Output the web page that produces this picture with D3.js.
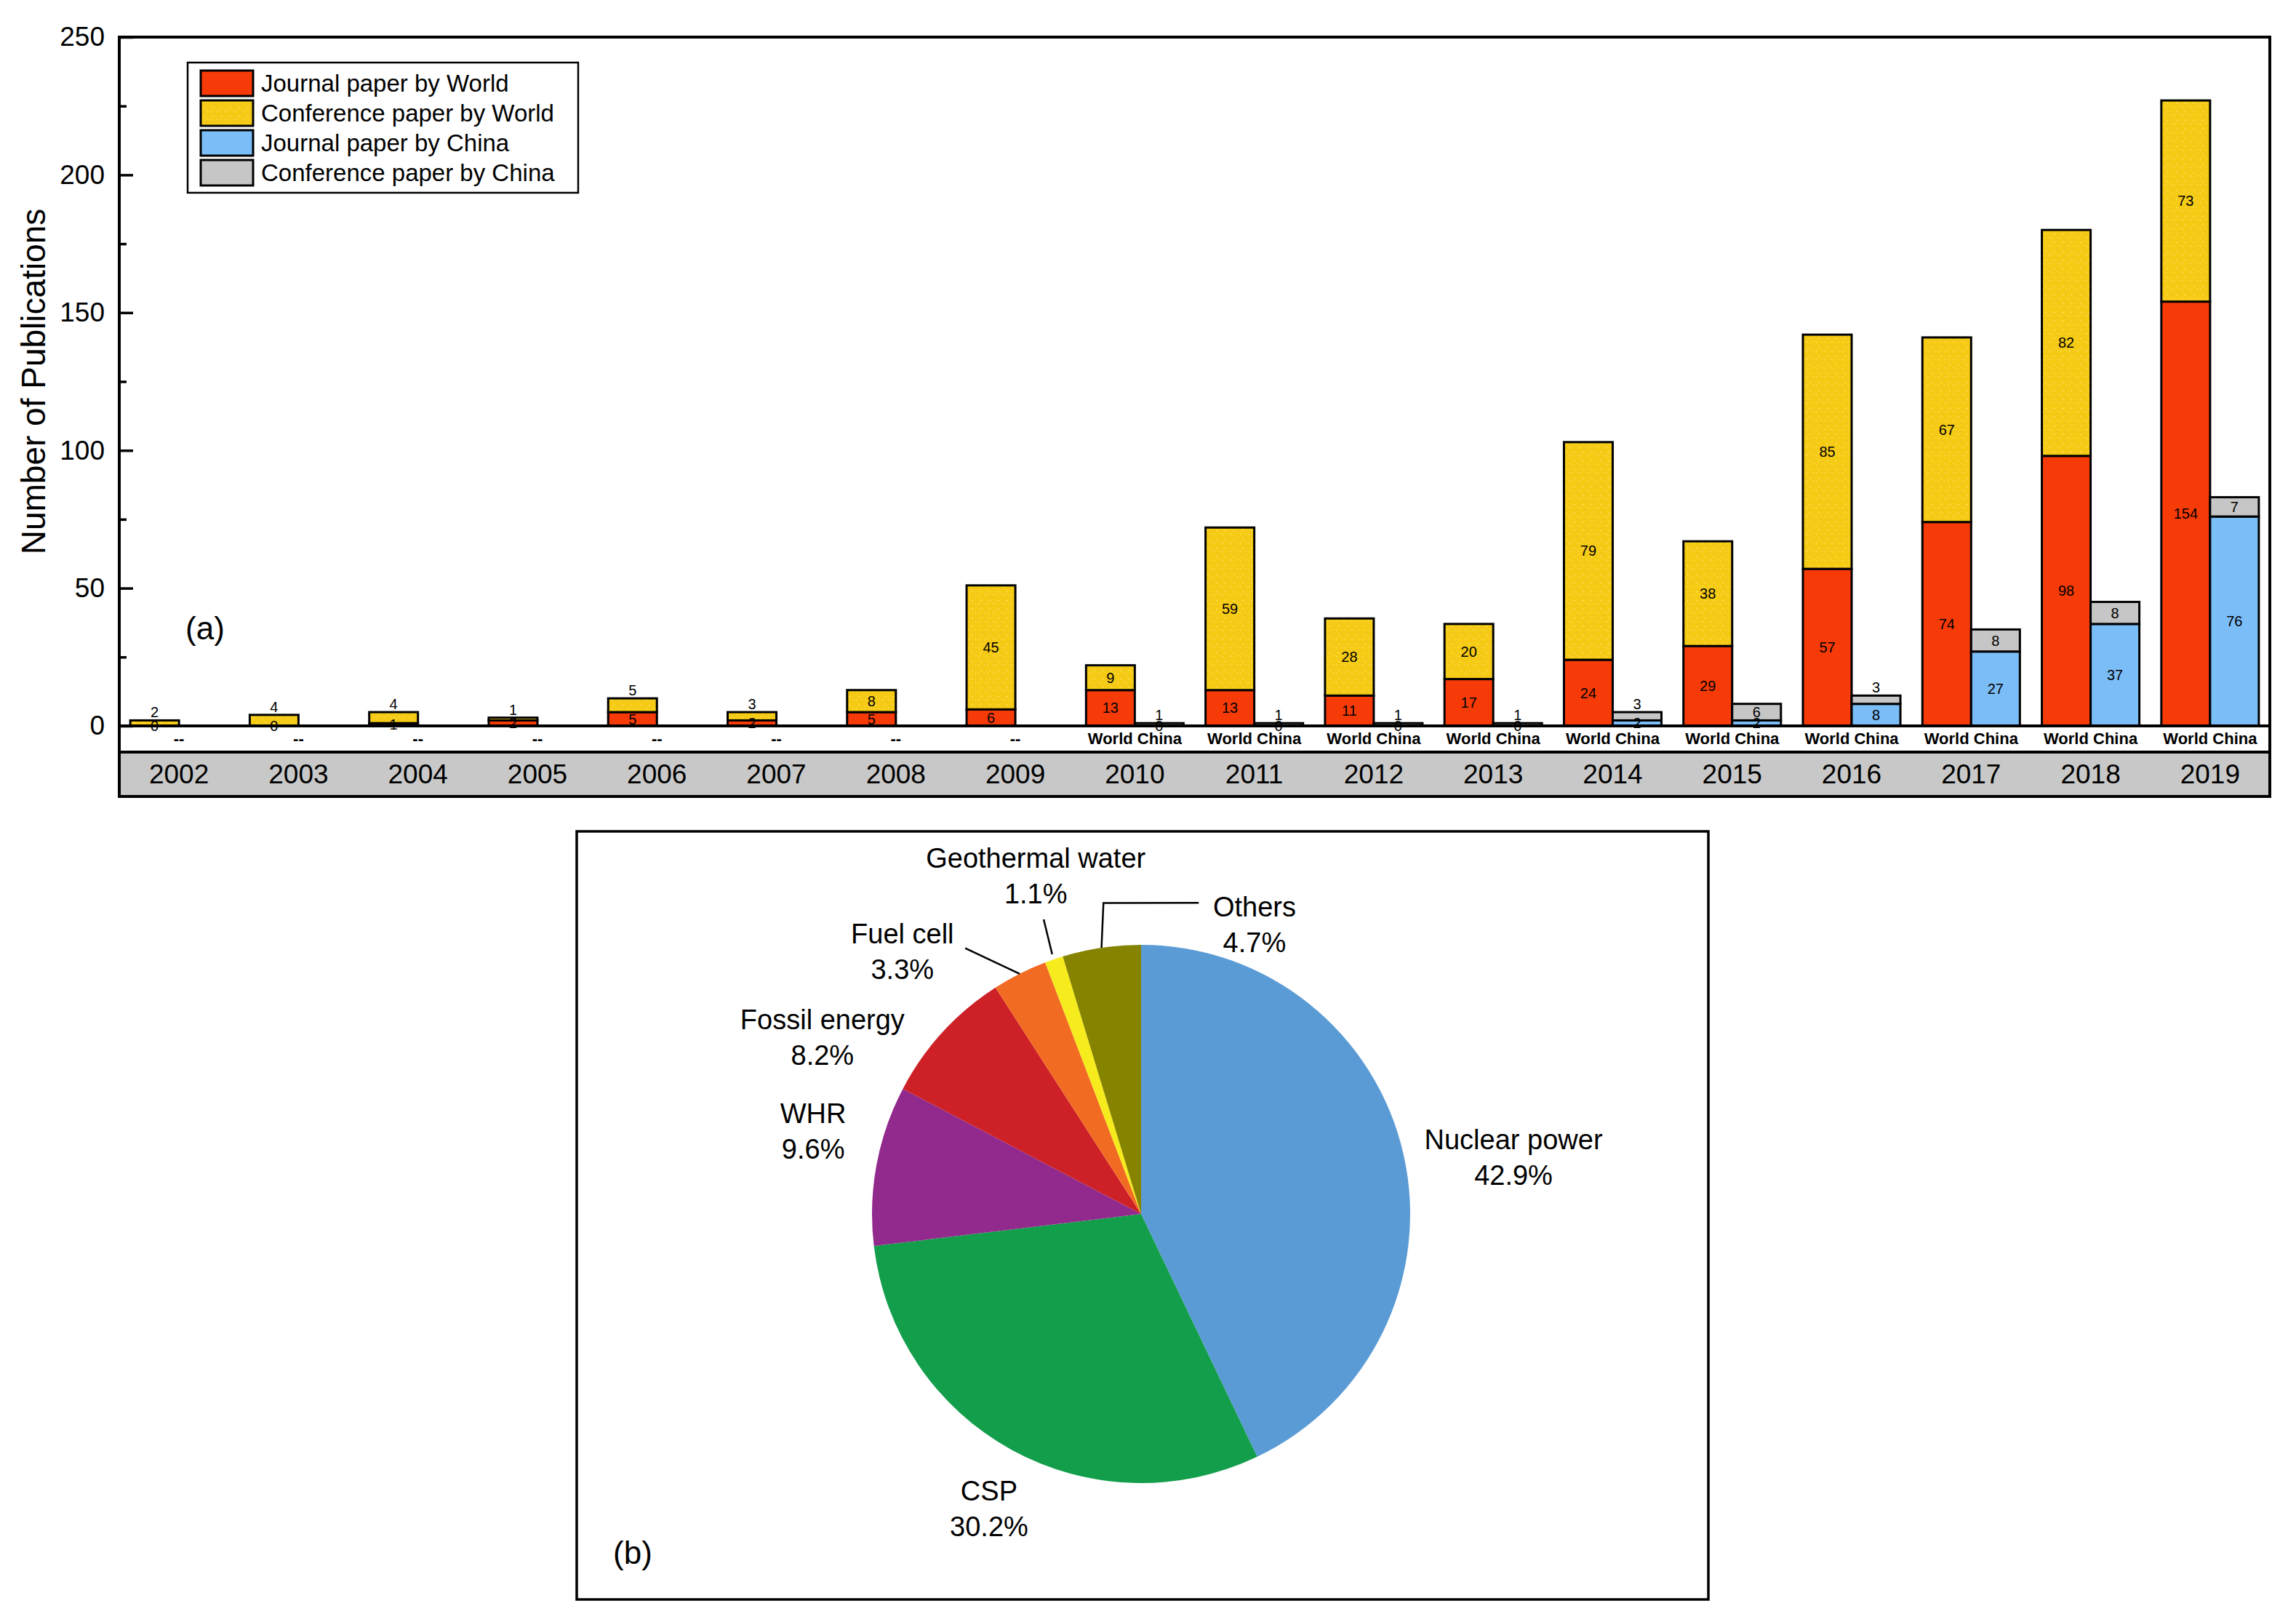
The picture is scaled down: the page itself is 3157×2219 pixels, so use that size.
<!DOCTYPE html>
<html>
<head>
<meta charset="utf-8">
<script src="https://cdn.jsdelivr.net/npm/d3@7"></script>
<style>
  body { margin: 0; background: #fff; }
  svg { display: block; font-family: "Liberation Sans", Arial, sans-serif; }
</style>
</head>
<body>
<svg id="chart" width="3157" height="2219"></svg>
<script>
// ---- data ----
const years = ['2002', '2003', '2004', '2005', '2006', '2007', '2008', '2009', '2010',
  '2011', '2012', '2013', '2014', '2015', '2016', '2017', '2018', '2019'];
const journalWorld = [0, 0, 1, 2, 5, 2, 5, 6, 13, 13, 11, 17, 24, 29, 57, 74, 98, 154];
const confWorld = [2, 4, 4, 1, 5, 3, 8, 45, 9, 59, 28, 20, 79, 38, 85, 67, 82, 73];
// no China split before 2010
const journalChina = [null, null, null, null, null, null, null, null, 0, 0, 0, 0, 2, 2, 8, 27, 37, 76];
const confChina = [null, null, null, null, null, null, null, null, 1, 1, 1, 1, 3, 6, 3, 8, 8, 7];
const seriesNames = ['Journal paper by World', 'Conference paper by World',
  'Journal paper by China', 'Conference paper by China'];
const yTicks = [0, 50, 100, 150, 200, 250];
const yMinorTicks = [25, 75, 125, 175, 225];

const sources = ['Nuclear power', 'CSP', 'WHR', 'Fossil energy', 'Fuel cell', 'Geothermal water', 'Others'];
const shares = [42.9, 30.2, 9.6, 8.2, 3.3, 1.1, 4.7];

// ---- styles / layout ----
const seriesColors = ['#F73B08', 'url(#speckle)', '#7BBDF7', '#C6C6C6'];
const pieColors = ['#5B9BD5', '#129E4B', '#922A8D', '#CD2127', '#F26B23', '#F6EB1C', '#858300'];

const A = { left: 164, right: 3121, top: 51, base: 998, bandTop: 1034, bottom: 1095 };
const B = { left: 793, right: 2349, top: 1143, bottom: 2199, cx: 1569, cy: 1669, r: 370 };

// label spots around the pie: [angle in deg from 12 o'clock, radius factor]
const pieLabelAt = [[81.3, 1.40], [207.3, 1.232], [284.2, 1.257], [299, 1.354],
  [317.7, 1.318], [342.7, 1.316], [21.4, 1.155]];
// leader lines, 'mid' = middle of the slice
const leaders = {
  4: [['mid', 1.0], [326.5, 1.184]],
  5: [['mid', 1.02], [341.7, 1.153]],
  6: [['mid', 1.0], [353.1, 1.164], [10.5, 1.176]]
};

const svg = d3.select('#chart');

// speckled yellow fill like the original
const defs = svg.append('defs');
const pat = defs.append('pattern')
  .attr('id', 'speckle')
  .attr('patternUnits', 'userSpaceOnUse')
  .attr('width', 12).attr('height', 12);
pat.append('rect').attr('width', 12).attr('height', 12).attr('fill', '#F6CB14');
[[1, 2, '#FCEB8A'], [7, 5, '#F2B04A'], [4, 9, '#FDF2B0'], [10, 10, '#F0C040'], [9, 1, '#FBE27A']]
  .forEach(([px, py, c]) => pat.append('rect').attr('x', px).attr('y', py)
    .attr('width', 1.2).attr('height', 1.2).attr('fill', c));

svg.append('rect').attr('width', 3157).attr('height', 2219).attr('fill', '#fff');

// ================= (a) bars =================
const x = d3.scaleBand().domain(years).range([A.left, A.right]);
const y = d3.scaleLinear().domain([0, 250]).range([A.base, A.top]);
const barW = x.bandwidth() * 0.408;

const rows = years.map((yr, i) => ({
  yr, jw: journalWorld[i], cw: confWorld[i], jc: journalChina[i], cc: confChina[i]
}));

const segments = [];
rows.forEach(r => {
  const cx = x(r.yr) + x.bandwidth() / 2;
  segments.push({ x0: cx - barW, y0: 0, v: r.jw, fill: seriesColors[0], top: false });
  segments.push({ x0: cx - barW, y0: r.jw, v: r.cw, fill: seriesColors[1], top: true });
  if (r.jc !== null) {
    segments.push({ x0: cx, y0: 0, v: r.jc, fill: seriesColors[2], top: false });
    segments.push({ x0: cx, y0: r.jc, v: r.cc, fill: seriesColors[3], top: true });
  }
});

const gA = svg.append('g');

gA.selectAll('.seg')
  .data(segments.filter(d => d.v > 0))
  .enter()
  .append('rect')
  .attr('class', 'seg')
  .attr('x', d => d.x0)
  .attr('y', d => y(d.y0 + d.v))
  .attr('width', barW)
  .attr('height', d => y(d.y0) - y(d.y0 + d.v))
  .attr('fill', d => d.fill)
  .attr('stroke', '#000')
  .attr('stroke-width', 3);

// band under the baseline
gA.append('rect')
  .attr('x', A.left).attr('y', A.bandTop)
  .attr('width', A.right - A.left).attr('height', A.bottom - A.bandTop)
  .attr('fill', '#C8C8C8');

[A.base, A.bandTop].forEach(yy => gA.append('line')
  .attr('x1', A.left).attr('x2', A.right).attr('y1', yy).attr('y2', yy)
  .attr('stroke', '#000').attr('stroke-width', 4));

gA.append('rect')
  .attr('x', A.left).attr('y', A.top)
  .attr('width', A.right - A.left).attr('height', A.bottom - A.top)
  .attr('fill', 'none').attr('stroke', '#000').attr('stroke-width', 4);

// y axis, ticks inside
const yAxis = gA.append('g')
  .attr('transform', `translate(${A.left},0)`)
  .call(d3.axisLeft(y).tickValues(yTicks).tickSize(-19).tickPadding(20));
yAxis.select('.domain').remove();
yAxis.selectAll('.tick line').attr('stroke-width', 3.5);
yAxis.selectAll('.tick text')
  .attr('font-size', 37).attr('font-family', '"Liberation Sans", Arial, sans-serif').attr('fill', '#000');

const yMinor = gA.append('g')
  .attr('transform', `translate(${A.left},0)`)
  .call(d3.axisLeft(y).tickValues(yMinorTicks).tickSize(-10).tickFormat(''));
yMinor.select('.domain').remove();
yMinor.selectAll('.tick line').attr('stroke-width', 3.5);

gA.append('text')
  .attr('transform', `translate(62,${(A.top + A.base) / 2}) rotate(-90)`)
  .attr('text-anchor', 'middle')
  .attr('font-size', 46)
  .text('Number of Publications');

// value labels
gA.selectAll('.val')
  .data(segments)
  .enter()
  .append('text')
  .attr('class', 'val')
  .attr('x', d => d.x0 + barW / 2)
  .attr('y', d => {
    const h = y(d.y0) - y(d.y0 + d.v);
    if (d.top && h < 19) return y(d.y0 + d.v) - 4;
    return (y(d.y0) + y(d.y0 + d.v)) / 2;
  })
  .attr('dy', d => (d.top && (y(d.y0) - y(d.y0 + d.v)) < 19) ? 0 : '0.35em')
  .attr('text-anchor', 'middle')
  .attr('font-size', 20)
  .text(d => d.v);

// World / China sub labels
gA.selectAll('.sub')
  .data(rows)
  .enter()
  .append('text')
  .attr('class', 'sub')
  .attr('x', d => x(d.yr) + x.bandwidth() / 2)
  .attr('y', 1023)
  .attr('text-anchor', 'middle')
  .attr('font-size', 22)
  .attr('font-weight', 'bold')
  .text(d => d.jc === null ? '--' : 'World China');

gA.selectAll('.yr')
  .data(years)
  .enter()
  .append('text')
  .attr('class', 'yr')
  .attr('x', d => x(d) + x.bandwidth() / 2)
  .attr('y', 1077)
  .attr('text-anchor', 'middle')
  .attr('font-size', 37)
  .text(d => d);

gA.append('text')
  .attr('x', 282).attr('y', 864).attr('dy', '0.35em')
  .attr('text-anchor', 'middle')
  .attr('font-size', 44)
  .text('(a)');

// legend
const leg = gA.append('g');
leg.append('rect')
  .attr('x', 258).attr('y', 86).attr('width', 537).attr('height', 179)
  .attr('fill', '#fff').attr('stroke', '#000').attr('stroke-width', 2.5);
const legItem = leg.selectAll('.li')
  .data(seriesNames)
  .enter()
  .append('g')
  .attr('class', 'li')
  .attr('transform', (d, i) => `translate(276,${97 + i * 41})`);
legItem.append('rect')
  .attr('width', 72).attr('height', 35)
  .attr('fill', (d, i) => seriesColors[i])
  .attr('stroke', '#000').attr('stroke-width', 3);
legItem.append('text')
  .attr('x', 83).attr('y', 17.5).attr('dy', '0.35em')
  .attr('font-size', 33)
  .text(d => d);

// ================= (b) pie =================
const gB = svg.append('g');
gB.append('rect')
  .attr('x', B.left).attr('y', B.top)
  .attr('width', B.right - B.left).attr('height', B.bottom - B.top)
  .attr('fill', 'none').attr('stroke', '#000').attr('stroke-width', 3.5);

const pie = d3.pie().sort(null).value(d => d);
const arcs = pie(shares);
const arc = d3.arc().innerRadius(0).outerRadius(B.r);

const pieG = gB.append('g').attr('transform', `translate(${B.cx},${B.cy})`);
pieG.selectAll('path')
  .data(arcs)
  .enter()
  .append('path')
  .attr('d', arc)
  .attr('fill', (d, i) => pieColors[i]);

const polar = (deg, f) => {
  const a = deg * Math.PI / 180;
  return [f * B.r * Math.sin(a), -f * B.r * Math.cos(a)];
};
const midDeg = d => ((d.startAngle + d.endAngle) / 2) * 180 / Math.PI;

Object.keys(leaders).forEach(k => {
  const d = arcs[k];
  const pts = leaders[k].map(([a, f]) => polar(a === 'mid' ? midDeg(d) : a, f));
  pieG.append('path')
    .attr('d', d3.line()(pts))
    .attr('fill', 'none')
    .attr('stroke', '#000')
    .attr('stroke-width', 2.5);
});

const lab = pieG.selectAll('.pl')
  .data(arcs)
  .enter()
  .append('text')
  .attr('class', 'pl')
  .attr('text-anchor', 'middle')
  .attr('font-size', 38)
  .attr('transform', (d, i) => {
    const [px, py] = polar(pieLabelAt[i][0], pieLabelAt[i][1]);
    return `translate(${px},${py})`;
  });
lab.append('tspan').attr('x', 0).attr('y', -11).text((d, i) => sources[i]);
lab.append('tspan').attr('x', 0).attr('y', 38).text(d => `${d.data.toFixed(1)}%`);

gB.append('text')
  .attr('x', 870).attr('y', 2135).attr('dy', '0.35em')
  .attr('text-anchor', 'middle')
  .attr('font-size', 44)
  .text('(b)');
</script>
</body>
</html>
